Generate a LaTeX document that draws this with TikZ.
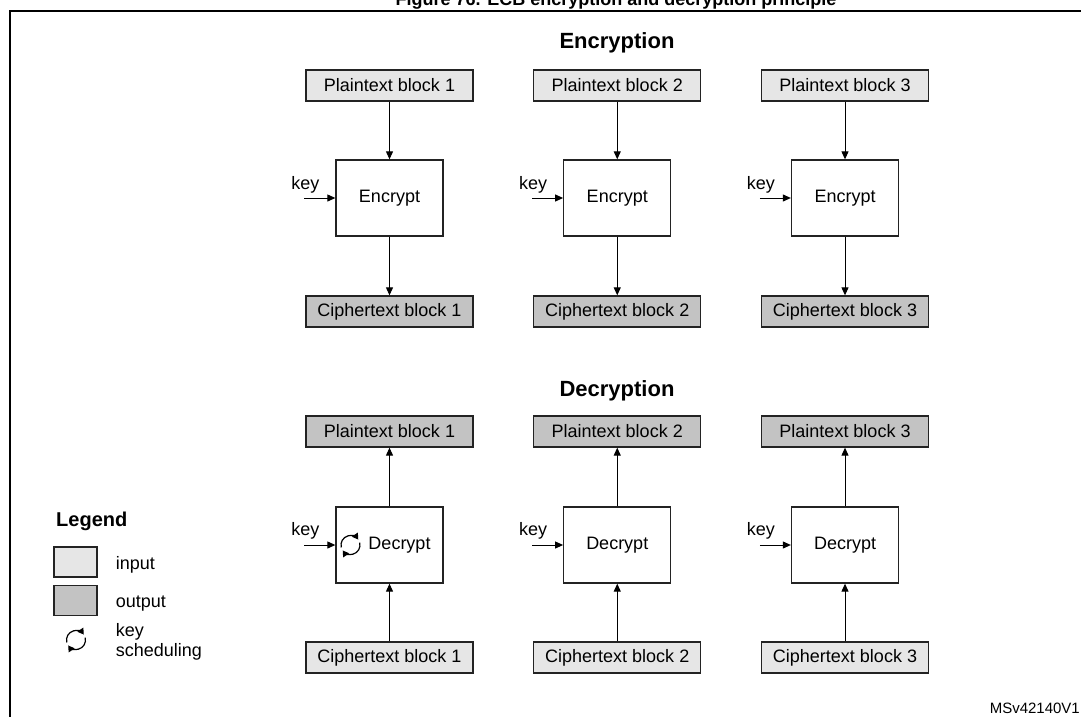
\documentclass[tikz,border=0pt]{standalone}
\usepackage{fontspec}
\setmainfont{Liberation Sans}
\usetikzlibrary{arrows.meta}
\definecolor{ingray}{RGB}{230,230,230}
\definecolor{outgray}{RGB}{195,195,195}
\definecolor{edge}{RGB}{35,35,35}
\begin{document}
\begin{tikzpicture}[x=1pt,y=-1pt,
  txt/.style={font=\fontsize{18}{21}\selectfont},
  blk/.style={draw=edge, line width=1.3pt, minimum width=167pt, minimum height=31pt, inner sep=0pt, txt},
  inblk/.style={blk, fill=ingray},
  outblk/.style={blk, fill=outgray},
  proc/.style={draw=edge, line width=1.3pt, fill=white, minimum width=107pt, minimum height=76pt, inner sep=0pt, txt},
  arr/.style={line width=1pt, -{Triangle[width=7pt,length=8pt]}},
  head/.style={font=\bfseries\fontsize{22}{26}\selectfont, inner sep=0pt, anchor=base},
  keylbl/.style={txt, inner sep=0pt, anchor=base},
  legbox/.style={draw=edge, line width=1.3pt, minimum width=43pt, minimum height=30pt, inner sep=0pt},
  sched/.style={line width=1.2pt, -{Triangle[width=7pt,length=6pt]}}
]
\useasboundingbox (0,0) rectangle (1081,717);

% frame
\draw[line width=2pt] (9.7,720) -- (9.7,10.7) -- (1085,10.7);

% title (partly cut off, as in the reference)
\node[font=\bfseries\fontsize{18}{21}\selectfont, anchor=base, inner sep=0pt] (title) at (616,6) {Figure 76. ECB encryption and decryption principle};

\node[head] (enchead) at (617,48.5) {Encryption};
\node[head] (dechead) at (617,396.5) {Decryption};

\foreach \i/\cx in {1/389.5,2/617.25,3/845}{
  % encryption
  \node[inblk] (p\i) at (\cx,85.5) {Plaintext block \i};
  \node[proc] (e\i) at (\cx,198) {Encrypt};
  \node[outblk] (c\i) at (\cx,311.5) {Ciphertext block \i};
  \draw[arr] (p\i) -- (e\i);
  \draw[arr] (e\i) -- (c\i);
  \coordinate (ek\i) at ([xshift=-31pt]e\i.west);
  \node[keylbl] (ekl\i) at ([xshift=1pt,yshift=8.5pt]ek\i) {key};
  \draw[arr] (ek\i) -- (e\i.west);
  % decryption
  \node[outblk] (dp\i) at (\cx,431.5) {Plaintext block \i};
  \node[inblk] (dc\i) at (\cx,657.5) {Ciphertext block \i};
}
\node[proc] (d1) at (389.5,545) {\hspace*{20pt}Decrypt};
\node[proc] (d2) at (617.25,545) {Decrypt};
\node[proc] (d3) at (845,545) {Decrypt};
\foreach \i in {1,2,3}{
  \draw[arr] (dc\i) -- (d\i);
  \draw[arr] (d\i) -- (dp\i);
  \coordinate (dk\i) at ([xshift=-31pt]d\i.west);
  \node[keylbl] (dkl\i) at ([xshift=1pt,yshift=9.5pt]dk\i) {key};
  \draw[arr] (dk\i) -- (d\i.west);
}

% key scheduling icon in Decrypt 1
\coordinate (ic1) at ([xshift=-39pt]d1.center);
\draw[sched] (ic1) ++(-195:9.5) arc[start angle=-195, end angle=-35, radius=9.5];
\draw[sched] (ic1) ++(-15:9.5) arc[start angle=-15, end angle=145, radius=9.5];

% legend
\node[font=\bfseries\fontsize{20}{24}\selectfont, anchor=base west, inner sep=0pt] (leg) at (56,526) {Legend};
\node[legbox, fill=ingray] (lin) at (75.5,562) {};
\node[legbox, fill=outgray] (lout) at (75.5,600.5) {};
\node[txt, anchor=base west, inner sep=0pt] (linl) at (115.7,569) {input};
\node[txt, anchor=base west, inner sep=0pt] (loutl) at (115.7,607.5) {output};
\node[txt, anchor=base west, inner sep=0pt] (lkey) at (115.7,636.7) {key};
\node[txt, anchor=base west, inner sep=0pt] (lsch) at (115.7,656) {scheduling};
\coordinate (ic0) at (76,640);
\draw[sched] (ic0) ++(-195:9.5) arc[start angle=-195, end angle=-35, radius=9.5];
\draw[sched] (ic0) ++(-15:9.5) arc[start angle=-15, end angle=145, radius=9.5];

\node[font=\fontsize{15}{18}\selectfont, anchor=base east, inner sep=0pt] (ms) at (1080,713.3) {MSv42140V1};
\end{tikzpicture}
\end{document}
